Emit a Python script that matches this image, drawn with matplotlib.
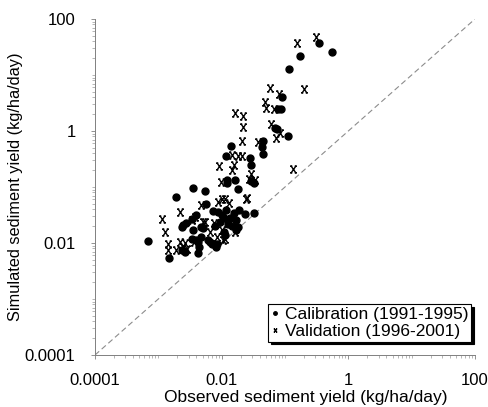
import numpy as np
import matplotlib
matplotlib.use("Agg")
import matplotlib.pyplot as plt
from matplotlib.path import Path
from matplotlib.ticker import FixedLocator, LogLocator, NullFormatter

plt.rcParams['font.family'] = ['Liberation Sans', 'DejaVu Sans']

# values, stored as log10(kg/ha/day)
calib_obs_log = [-0.47, -0.26, -0.76, -0.94, -1.05, -1.11, -1.07, -1.16, -1.12, -0.95,
                 -1.35, -1.36, -1.35, -1.86, -1.93, -1.56, -1.54, -1.92, -1.91, -1.79,
                 -1.53, -1.49, -1.74, -2.46, -2.26, -2.72, -2.24, -1.63, -1.49, -1.74,
                 -2.14, -2.41, -2.47, -2.61, -2.63, -3.17, -2.83, -2.29, -2.45, -2.63,
                 -2.58, -2.47, -2.37, -2.35, -2.37, -2.21, -2.18, -2.16, -2.08, -1.77,
                 -1.96, -1.95, -2.33, -2.09, -2.06, -2.00, -1.93, -1.87, -1.81, -2.03,
                 -1.90, -1.77, -1.96, -2.11, -1.84, -1.73, -2.57, -2.32, -2.41]
calib_sim_log = [1.57, 1.41, 1.34, 1.11, 0.60, 0.39, 0.39, 0.06, 0.03, -0.09,
                 -0.18, -0.29, -0.41, -0.27, -0.45, -0.49, -0.60, -0.88, -0.93, -0.88,
                 -0.89, -0.93, -1.04, -1.01, -1.08, -1.18, -1.31, -1.48, -1.46, -1.72,
                 -1.42, -1.50, -1.58, -1.68, -1.71, -1.96, -2.26, -1.74, -1.76, -2.13,
                 -2.16, -1.92, -1.98, -2.07, -2.17, -1.95, -1.98, -2.01, -2.02, -1.76,
                 -1.80, -1.86, -1.90, -2.07, -1.45, -1.50, -1.41, -1.55, -1.46, -1.63,
                 -1.66, -1.59, -1.55, -1.70, -1.70, -1.41, -1.65, -1.71, -1.95]

valid_obs_log = [-0.81, -0.51, -1.24, -0.70, -1.10, -1.32, -1.30, -1.17, -1.79, -1.66,
                 -1.66, -1.22, -1.08, -1.14, -1.68, -1.42, -1.84, -1.74, -1.68, -2.04,
                 -1.81, -1.84, -0.87, -1.54, -2.01, -1.57, -1.47, -2.00, -1.60, -2.33,
                 -2.06, -1.95, -1.88, -2.66, -2.94, -2.90, -2.85, -2.85, -2.66, -2.61,
                 -2.55, -2.44, -2.08, -1.95, -1.98, -1.79, -2.18, -2.30, -2.42, -2.47,
                 -2.26, -2.12, -2.00, -1.61, -2.58, -2.72]
valid_sim_log = [1.58, 1.67, 0.77, 0.75, 0.66, 0.51, 0.41, 0.39, 0.33, 0.26,
                 0.08, 0.12, -0.04, -0.12, -0.17, -0.20, -0.43, -0.45, -0.45, -0.62,
                 -0.60, -0.69, -0.67, -0.76, -0.91, -0.85, -0.88, -1.21, -1.19, -1.33,
                 -1.26, -1.22, -1.29, -1.44, -1.58, -1.80, -2.01, -2.13, -1.98, -2.07,
                 -2.11, -1.98, -1.89, -1.92, -1.95, -1.80, -1.81, -1.63, -1.53, -1.59,
                 -1.62, -1.64, -1.76, -1.22, -2.00, -2.13]

tick_vals = [1e-4, 1e-2, 1, 100]
tick_labels = ['0.0001', '0.01', '1', '100']
one_to_one = [1e-4, 100]

calib_obs = 10 ** np.array(calib_obs_log)
calib_sim = 10 ** np.array(calib_sim_log)
valid_obs = 10 ** np.array(valid_obs_log)
valid_sim = 10 ** np.array(valid_sim_log)

# "x" symbol with little serifs, like the typewriter x in the scan
verts = [(-0.7, -1), (0.7, 1), (-0.7, 1), (0.7, -1),
         (-1, 1), (-0.35, 1), (0.35, 1), (1, 1),
         (-1, -1), (-0.35, -1), (0.35, -1), (1, -1)]
codes = [Path.MOVETO, Path.LINETO] * 6
xmark = Path(verts, codes)

fig = plt.figure(figsize=(4.89, 4.07), dpi=100)
ax = fig.add_axes([95 / 489, 1 - 355 / 407, 380 / 489, 336 / 407])

ax.plot(one_to_one, one_to_one, color='0.55', lw=0.8, dashes=(5, 3), zorder=1)
ax.plot(calib_obs, calib_sim, 'o', color='k', ms=5, ls='none',
        label='Calibration (1991-1995)', zorder=3)
ax.plot(valid_obs, valid_sim, marker=xmark, color='k', mfc='none', mec='k',
        mew=1.0, ms=5, ls='none', label='Validation (1996-2001)', zorder=3)

ax.set_xscale('log')
ax.set_yscale('log')
ax.set_xlim(1e-4, 100)
ax.set_ylim(1e-4, 100)

for axis in (ax.xaxis, ax.yaxis):
    axis.set_major_locator(FixedLocator(tick_vals))
    axis.set_major_formatter(plt.FixedFormatter(tick_labels))
    axis.set_minor_locator(LogLocator(base=10, subs=np.arange(1, 10)))
    axis.set_minor_formatter(NullFormatter())

ax.tick_params(which='major', length=3, width=0.6, color='0.5', labelsize=12)
ax.tick_params(which='minor', length=2, width=0.5, color='0.6')
ax.tick_params(axis='x', pad=10)
ax.tick_params(axis='y', pad=11)

for side in ('top', 'right'):
    ax.spines[side].set_visible(False)
for side in ('left', 'bottom'):
    ax.spines[side].set_color('0.5')
    ax.spines[side].set_linewidth(0.7)

ax.set_xlabel('Observed sediment yield (kg/ha/day)', fontsize=12.5)
ax.set_ylabel('Simulated sediment yield (kg/ha/day)', fontsize=11.8)
ax.xaxis.set_label_coords(0.555, -0.105)
ax.yaxis.set_label_coords(-0.19, 0.5)

leg = ax.legend(loc='lower right', bbox_to_anchor=(0.99, 0.04), fontsize=12.5,
                markerscale=0.5, handlelength=0.5, handletextpad=0.35,
                borderpad=0.15, labelspacing=0.1, borderaxespad=0,
                fancybox=False, framealpha=1, edgecolor='k',
                shadow={'color': 'k', 'alpha': 1})
leg.get_frame().set_linewidth(0.8)

fig.savefig('out.png', dpi=100)
